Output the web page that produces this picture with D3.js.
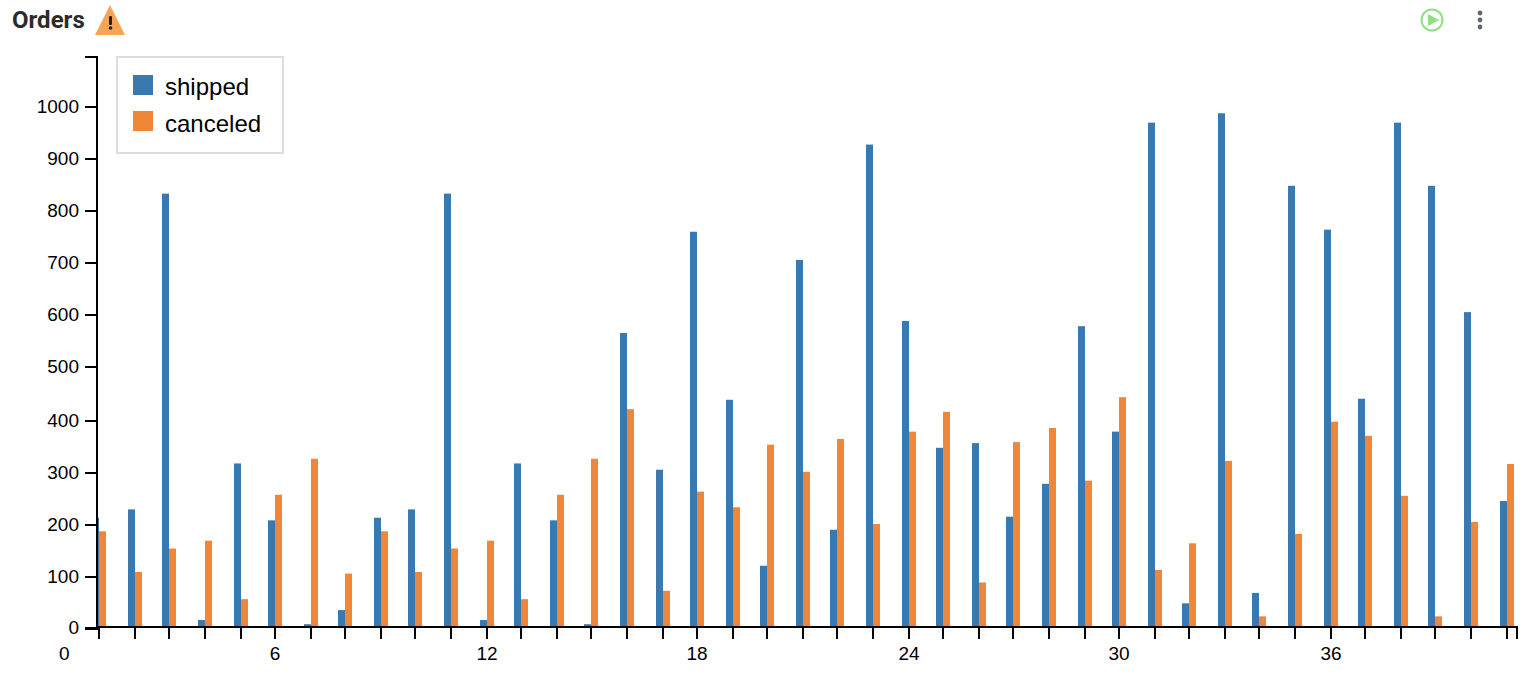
<!DOCTYPE html>
<html><head><meta charset="utf-8">
<script src="https://cdn.jsdelivr.net/npm/d3@7/dist/d3.min.js"></script>
<style>html,body{margin:0;padding:0;background:#fff;overflow:hidden}svg{display:block}</style>
</head><body><svg id="c" width="1520" height="682"></svg>
<script>
const categories = d3.range(0, 42);
const seriesNames = ["shipped", "canceled"];
const seriesColors = ["#3a78b0", "#f08638"];
const shipped = [213,229,834,17,317,208,9,36,213,229,834,17,317,208,9,567,305,761,439,121,707,190,928,590,347,356,215,278,580,378,970,49,988,69,849,765,441,970,849,607,245];
const canceled = [187,109,154,169,57,257,326,106,187,109,154,169,57,257,326,421,73,263,233,353,301,364,201,378,416,89,358,385,284,444,113,164,322,24,182,397,370,255,24,205,316];
const yTicks = [0,100,200,300,400,500,600,700,800,900,1000];
const xLabelEvery = 6;

const svg = d3.select("#c");
const plotL = 98, plotR = 1517, plotT = 57, plotB = 627;
const x = d3.scaleLinear().domain([0, 6]).range([64.2, 275.22]);
const snap = v => 2 * Math.round((v - 1) / 2) + 1;
const y = d3.scaleLinear().domain([0, 1096]).range([628.9, 56.9]);
const barW = 7;

svg.append("defs").append("clipPath").attr("id","plot").append("rect")
  .attr("x", plotL).attr("y", plotT).attr("width", plotR-plotL).attr("height", plotB-plotT);

const bars = svg.append("g").attr("clip-path","url(#plot)");
[shipped, canceled].forEach((vals, s) => {
  bars.append("g").selectAll("rect").data(vals).join("rect")
    .attr("x", (d,i) => snap(x(i+1)) + (s-1)*barW)
    .attr("width", barW)
    .attr("y", d => y(d))
    .attr("height", d => plotB - y(d))
    .attr("fill", seriesColors[s]);
});

const font = "'Liberation Sans', Arial, sans-serif";
const xAxis = d3.axisBottom(x).offset(0).tickSize(12).tickPadding(0)
  .tickValues(categories).tickFormat(d => d % xLabelEvery === 0 ? d : "");
const gx = svg.append("g").attr("transform",`translate(0,${plotB})`).call(xAxis);
gx.select(".domain").remove();
gx.selectAll(".tick").attr("transform", d => `translate(${d===0 ? x(0) : snap(x(d))},0)`);
gx.selectAll(".tick line").attr("stroke","#000").attr("stroke-width",2).attr("opacity", d => d===0 ? 0 : 1);
gx.selectAll(".tick text").attr("y",33).attr("dy",0).attr("fill","#000").style("font",`19px ${font}`);
gx.append("line").attr("x1",plotL-1).attr("x2",plotR+1).attr("y1",0).attr("y2",0).attr("stroke","#000").attr("stroke-width",2);
gx.append("line").attr("x1",plotR).attr("x2",plotR).attr("y1",0).attr("y2",12).attr("stroke","#000").attr("stroke-width",2);

const yAxis = d3.axisLeft(y).offset(0).tickValues(yTicks).tickSize(12).tickPadding(6).tickFormat(d3.format("d"));
const gy = svg.append("g").attr("transform",`translate(${plotL-1},0)`).call(yAxis);
gy.select(".domain").attr("stroke","#000").attr("stroke-width",2).attr("fill","none");
gy.selectAll(".tick").attr("transform", d => `translate(0,${Math.min(snap(y(d)), plotB + 1)})`);
gy.selectAll(".tick line").attr("stroke","#000").attr("stroke-width",2);
gy.selectAll(".tick text").attr("fill","#000").style("font",`19px ${font}`);

// legend
const lg = svg.append("g");
lg.append("rect").attr("x",117).attr("y",57).attr("width",166).attr("height",96)
  .attr("fill","#fff").attr("stroke","#ddd").attr("stroke-width",2);
seriesNames.forEach((n,i) => {
  const yy = 75 + i*36;
  lg.append("rect").attr("x",133).attr("y",yy).attr("width",20).attr("height",20).attr("fill",seriesColors[i]);
  lg.append("text").attr("x",165).attr("y",95 + i*37).attr("fill","#000").style("font",`24px ${font}`).text(n);
});

// header
svg.append("text").attr("x",12).attr("y",28).attr("fill","#2b2b2b")
  .style("font","700 24px Roboto, sans-serif").text("Orders");
svg.append("path").attr("d","M110 5 L125 35 L95 35 Z").attr("fill","#f5a553");
svg.append("rect").attr("x",109).attr("y",16).attr("width",3).attr("height",9).attr("rx",1).attr("fill","#222");
svg.append("circle").attr("cx",110.5).attr("cy",28).attr("r",1.8).attr("fill","#222");
svg.append("circle").attr("cx",1432).attr("cy",20).attr("r",10.5).attr("fill","none").attr("stroke","#90e083").attr("stroke-width",2);
svg.append("path").attr("d","M1428 14 L1439 20 L1428 26 Z").attr("fill","#90e083");
[13,20,27].forEach(cy => svg.append("circle").attr("cx",1480).attr("cy",cy).attr("r",2.4).attr("fill","#5f6670"));
</script></body></html>
